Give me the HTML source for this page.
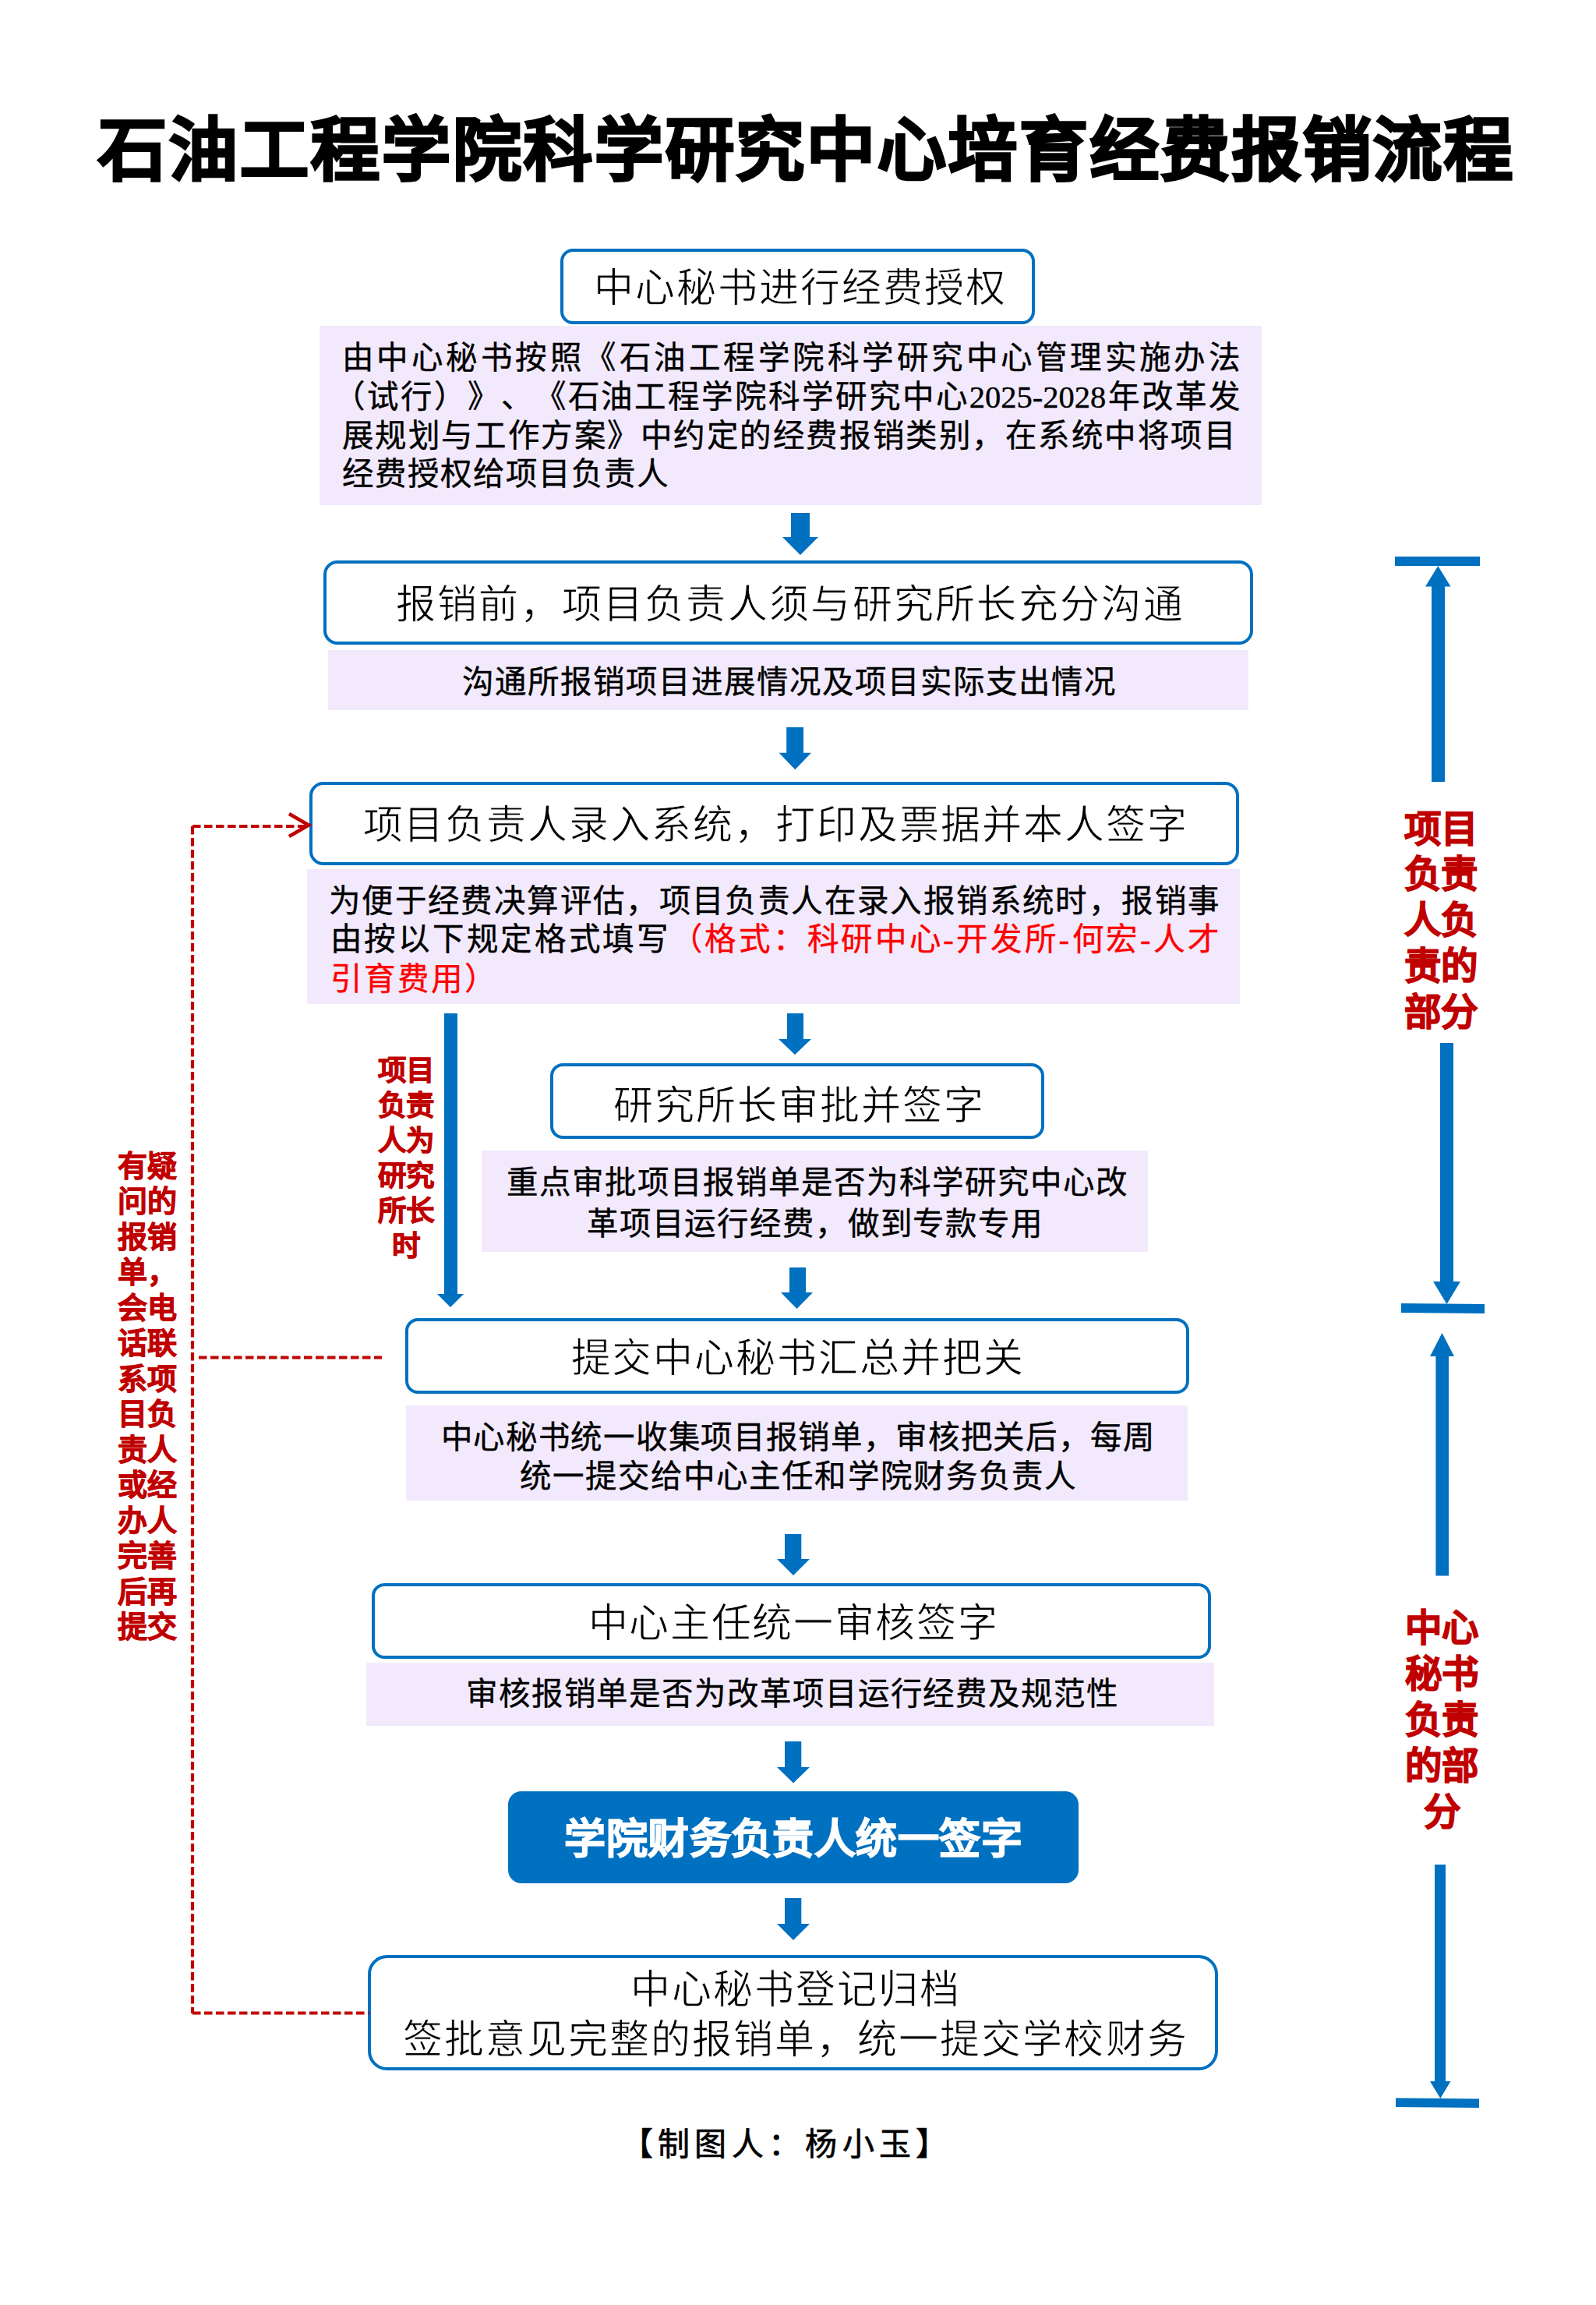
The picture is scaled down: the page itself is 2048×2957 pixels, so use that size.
<!DOCTYPE html>
<html lang="zh-CN"><head><meta charset="utf-8"><title>石油工程学院科学研究中心培育经费报销流程</title>
<style>
html,body{margin:0;padding:0;background:#fff;}
body{width:2048px;height:2957px;position:relative;overflow:hidden;}
.b{position:absolute;box-sizing:border-box;}
.t{position:absolute;white-space:nowrap;text-spacing-trim:space-all;}
.f1{font-family:"Liberation Sans",sans-serif;}
.f2{font-family:"Liberation Serif",serif;}
.j{text-align:justify;text-align-last:justify;}
.c{text-align:center;}
.ov{position:absolute;left:0;top:0;}
</style></head><body>
<div class="t f1 j" style="left:126.4px;top:149.1px;width:1815.0px;font-size:88.00px;line-height:88.00px;color:#000;font-weight:bold;-webkit-text-stroke:3px #000;">石油工程学院科学研究中心培育经费报销流程</div>
<div class="b" style="left:410px;top:418px;width:1209px;height:230px;background:#f2eafc"></div>
<div class="b" style="left:421px;top:834px;width:1181px;height:77px;background:#f2eafc"></div>
<div class="b" style="left:394px;top:1115px;width:1197px;height:173px;background:#f2eafc"></div>
<div class="b" style="left:618px;top:1476px;width:855px;height:130px;background:#f2eafc"></div>
<div class="b" style="left:521px;top:1803px;width:1003px;height:122px;background:#f2eafc"></div>
<div class="b" style="left:470px;top:2133px;width:1088px;height:81px;background:#f2eafc"></div>
<div class="b" style="left:719px;top:319px;width:609px;height:97px;border:4px solid #0070c0;border-radius:16.2px;background:#fff"></div>
<div class="b" style="left:415px;top:719px;width:1193px;height:108px;border:4px solid #0070c0;border-radius:18.0px;background:#fff"></div>
<div class="b" style="left:397px;top:1003px;width:1193px;height:107px;border:4px solid #0070c0;border-radius:17.8px;background:#fff"></div>
<div class="b" style="left:706px;top:1364px;width:634px;height:97px;border:4px solid #0070c0;border-radius:16.2px;background:#fff"></div>
<div class="b" style="left:520px;top:1691px;width:1006px;height:97px;border:4px solid #0070c0;border-radius:16.2px;background:#fff"></div>
<div class="b" style="left:477px;top:2031px;width:1077px;height:97px;border:4px solid #0070c0;border-radius:16.2px;background:#fff"></div>
<div class="b" style="left:472px;top:2508px;width:1091px;height:148px;border:4px solid #0070c0;border-radius:24.7px;background:#fff"></div>
<div class="b" style="left:652px;top:2298px;width:732px;height:118px;border:0px solid #0070c0;border-radius:17px;background:#0070c0"></div>
<div class="t f1 j" style="left:761.5px;top:343.5px;width:528.1px;font-size:51.00px;line-height:51.00px;color:#000;font-weight:normal;-webkit-text-stroke:0.8px #fff;">中心秘书进行经费授权</div>
<div class="t f1 j" style="left:507.5px;top:749.5px;width:1010.1px;font-size:51.00px;line-height:51.00px;color:#000;font-weight:normal;-webkit-text-stroke:0.8px #fff;">报销前，项目负责人须与研究所长充分沟通</div>
<div class="t f1 j" style="left:465.5px;top:1032.5px;width:1057.1px;font-size:51.00px;line-height:51.00px;color:#000;font-weight:normal;-webkit-text-stroke:0.8px #fff;">项目负责人录入系统，打印及票据并本人签字</div>
<div class="t f1 j" style="left:786.5px;top:1392.5px;width:475.1px;font-size:51.00px;line-height:51.00px;color:#000;font-weight:normal;-webkit-text-stroke:0.8px #fff;">研究所长审批并签字</div>
<div class="t f1 j" style="left:732.5px;top:1716.5px;width:580.1px;font-size:51.00px;line-height:51.00px;color:#000;font-weight:normal;-webkit-text-stroke:0.8px #fff;">提交中心秘书汇总并把关</div>
<div class="t f1 j" style="left:754.5px;top:2056.5px;width:525.1px;font-size:51.00px;line-height:51.00px;color:#000;font-weight:normal;-webkit-text-stroke:0.8px #fff;">中心主任统一审核签字</div>
<div class="t f1 j" style="left:808.5px;top:2526.5px;width:422.1px;font-size:51.00px;line-height:51.00px;color:#000;font-weight:normal;-webkit-text-stroke:0.8px #fff;">中心秘书登记归档</div>
<div class="t f1 j" style="left:516.5px;top:2590.5px;width:1006.1px;font-size:51.00px;line-height:51.00px;color:#000;font-weight:normal;-webkit-text-stroke:0.8px #fff;">签批意见完整的报销单，统一提交学校财务</div>
<div class="t f1 j" style="left:724.4px;top:2332.5px;width:587.2px;font-size:53.00px;line-height:53.00px;color:#fff;font-weight:bold;-webkit-text-stroke:1.4px #fff;">学院财务负责人统一签字</div>
<div class="t f2 j" style="left:438.8px;top:439.6px;width:1152.2px;font-size:40.50px;line-height:40.50px;color:#000;font-weight:normal;-webkit-text-stroke-width:0.4px;">由中心秘书按照《石油工程学院科学研究中心管理实施办法</div>
<div class="t f2 j" style="left:428.0px;top:489.6px;width:1163.0px;font-size:40.50px;line-height:40.50px;color:#000;font-weight:normal;-webkit-text-stroke-width:0.4px;">（试行）》、《石油工程学院科学研究中心2025-2028年改革发</div>
<div class="t f2 j" style="left:438.8px;top:539.6px;width:1146.2px;font-size:40.50px;line-height:40.50px;color:#000;font-weight:normal;-webkit-text-stroke-width:0.4px;">展规划与工作方案》中约定的经费报销类别，在系统中将项目</div>
<div class="t f2 j" style="left:438.8px;top:588.6px;width:418.2px;font-size:40.50px;line-height:40.50px;color:#000;font-weight:normal;-webkit-text-stroke-width:0.4px;">经费授权给项目负责人</div>
<div class="t f2 j" style="left:592.8px;top:855.6px;width:838.2px;font-size:40.50px;line-height:40.50px;color:#000;font-weight:normal;-webkit-text-stroke-width:0.4px;">沟通所报销项目进展情况及项目实际支出情况</div>
<div class="t f2 j" style="left:421.8px;top:1136.6px;width:1142.2px;font-size:40.50px;line-height:40.50px;color:#000;font-weight:normal;-webkit-text-stroke-width:0.4px;">为便于经费决算评估，项目负责人在录入报销系统时，报销事</div>
<div class="t f2 j" style="left:423.8px;top:1185.6px;width:1140.2px;font-size:40.50px;line-height:40.50px;color:#000;font-weight:normal;-webkit-text-stroke-width:0.4px;">由按以下规定格式填写<span style="color:#ff0000">（格式：科研中心-开发所-何宏-人才</span></div>
<div class="t f2 j" style="left:423.8px;top:1236.6px;width:212.6px;font-size:40.50px;line-height:40.50px;color:#000;font-weight:normal;-webkit-text-stroke-width:0.4px;"><span style="color:#ff0000">引育费用）</span></div>
<div class="t f2 j" style="left:649.8px;top:1497.6px;width:796.2px;font-size:40.50px;line-height:40.50px;color:#000;font-weight:normal;-webkit-text-stroke-width:0.4px;">重点审批项目报销单是否为科学研究中心改</div>
<div class="t f2 j" style="left:752.8px;top:1550.6px;width:584.2px;font-size:40.50px;line-height:40.50px;color:#000;font-weight:normal;-webkit-text-stroke-width:0.4px;">革项目运行经费，做到专款专用</div>
<div class="t f2 j" style="left:565.8px;top:1824.6px;width:915.2px;font-size:40.50px;line-height:40.50px;color:#000;font-weight:normal;-webkit-text-stroke-width:0.4px;">中心秘书统一收集项目报销单，审核把关后，每周</div>
<div class="t f2 j" style="left:666.8px;top:1874.6px;width:713.2px;font-size:40.50px;line-height:40.50px;color:#000;font-weight:normal;-webkit-text-stroke-width:0.4px;">统一提交给中心主任和学院财务负责人</div>
<div class="t f2 j" style="left:597.8px;top:2153.6px;width:836.2px;font-size:40.50px;line-height:40.50px;color:#000;font-weight:normal;-webkit-text-stroke-width:0.4px;">审核报销单是否为改革项目运行经费及规范性</div>
<div class="t f1 j" style="left:796.5px;top:2730.6px;width:419.9px;font-size:41.00px;line-height:41.00px;color:#000;font-weight:normal;-webkit-text-stroke:0.7px #000;">【制图人：杨小玉】</div>
<div class="t f1 c" style="left:484.0px;top:1355.6px;width:74.0px;font-size:36.5px;line-height:36.5px;color:#c00000;font-weight:bold;-webkit-text-stroke:1.0px #c00000">项目</div>
<div class="t f1 c" style="left:484.0px;top:1400.6px;width:74.0px;font-size:36.5px;line-height:36.5px;color:#c00000;font-weight:bold;-webkit-text-stroke:1.0px #c00000">负责</div>
<div class="t f1 c" style="left:484.0px;top:1445.6px;width:74.0px;font-size:36.5px;line-height:36.5px;color:#c00000;font-weight:bold;-webkit-text-stroke:1.0px #c00000">人为</div>
<div class="t f1 c" style="left:484.0px;top:1490.6px;width:74.0px;font-size:36.5px;line-height:36.5px;color:#c00000;font-weight:bold;-webkit-text-stroke:1.0px #c00000">研究</div>
<div class="t f1 c" style="left:484.0px;top:1535.6px;width:74.0px;font-size:36.5px;line-height:36.5px;color:#c00000;font-weight:bold;-webkit-text-stroke:1.0px #c00000">所长</div>
<div class="t f1 c" style="left:484.0px;top:1580.6px;width:74.0px;font-size:36.5px;line-height:36.5px;color:#c00000;font-weight:bold;-webkit-text-stroke:1.0px #c00000">时</div>
<div class="t f1 c" style="left:150.0px;top:1476.6px;width:77.0px;font-size:38px;line-height:38px;color:#c00000;font-weight:bold;-webkit-text-stroke:0.9px #c00000">有疑</div>
<div class="t f1 c" style="left:150.0px;top:1522.1px;width:77.0px;font-size:38px;line-height:38px;color:#c00000;font-weight:bold;-webkit-text-stroke:0.9px #c00000">问的</div>
<div class="t f1 c" style="left:150.0px;top:1567.6px;width:77.0px;font-size:38px;line-height:38px;color:#c00000;font-weight:bold;-webkit-text-stroke:0.9px #c00000">报销</div>
<div class="t f1 c" style="left:150.0px;top:1613.1px;width:77.0px;font-size:38px;line-height:38px;color:#c00000;font-weight:bold;-webkit-text-stroke:0.9px #c00000">单，</div>
<div class="t f1 c" style="left:150.0px;top:1658.6px;width:77.0px;font-size:38px;line-height:38px;color:#c00000;font-weight:bold;-webkit-text-stroke:0.9px #c00000">会电</div>
<div class="t f1 c" style="left:150.0px;top:1704.1px;width:77.0px;font-size:38px;line-height:38px;color:#c00000;font-weight:bold;-webkit-text-stroke:0.9px #c00000">话联</div>
<div class="t f1 c" style="left:150.0px;top:1749.6px;width:77.0px;font-size:38px;line-height:38px;color:#c00000;font-weight:bold;-webkit-text-stroke:0.9px #c00000">系项</div>
<div class="t f1 c" style="left:150.0px;top:1795.1px;width:77.0px;font-size:38px;line-height:38px;color:#c00000;font-weight:bold;-webkit-text-stroke:0.9px #c00000">目负</div>
<div class="t f1 c" style="left:150.0px;top:1840.6px;width:77.0px;font-size:38px;line-height:38px;color:#c00000;font-weight:bold;-webkit-text-stroke:0.9px #c00000">责人</div>
<div class="t f1 c" style="left:150.0px;top:1886.1px;width:77.0px;font-size:38px;line-height:38px;color:#c00000;font-weight:bold;-webkit-text-stroke:0.9px #c00000">或经</div>
<div class="t f1 c" style="left:150.0px;top:1931.6px;width:77.0px;font-size:38px;line-height:38px;color:#c00000;font-weight:bold;-webkit-text-stroke:0.9px #c00000">办人</div>
<div class="t f1 c" style="left:150.0px;top:1977.1px;width:77.0px;font-size:38px;line-height:38px;color:#c00000;font-weight:bold;-webkit-text-stroke:0.9px #c00000">完善</div>
<div class="t f1 c" style="left:150.0px;top:2022.6px;width:77.0px;font-size:38px;line-height:38px;color:#c00000;font-weight:bold;-webkit-text-stroke:0.9px #c00000">后再</div>
<div class="t f1 c" style="left:150.0px;top:2068.1px;width:77.0px;font-size:38px;line-height:38px;color:#c00000;font-weight:bold;-webkit-text-stroke:0.9px #c00000">提交</div>
<div class="t f1 c" style="left:1801.0px;top:1039.5px;width:96.0px;font-size:47.5px;line-height:47.5px;color:#c00000;font-weight:bold;-webkit-text-stroke:1.3px #c00000">项目</div>
<div class="t f1 c" style="left:1801.0px;top:1098.3px;width:96.0px;font-size:47.5px;line-height:47.5px;color:#c00000;font-weight:bold;-webkit-text-stroke:1.3px #c00000">负责</div>
<div class="t f1 c" style="left:1801.0px;top:1157.1px;width:96.0px;font-size:47.5px;line-height:47.5px;color:#c00000;font-weight:bold;-webkit-text-stroke:1.3px #c00000">人负</div>
<div class="t f1 c" style="left:1801.0px;top:1215.9px;width:96.0px;font-size:47.5px;line-height:47.5px;color:#c00000;font-weight:bold;-webkit-text-stroke:1.3px #c00000">责的</div>
<div class="t f1 c" style="left:1801.0px;top:1274.7px;width:96.0px;font-size:47.5px;line-height:47.5px;color:#c00000;font-weight:bold;-webkit-text-stroke:1.3px #c00000">部分</div>
<div class="t f1 c" style="left:1801.0px;top:2064.5px;width:98.0px;font-size:47.5px;line-height:47.5px;color:#c00000;font-weight:bold;-webkit-text-stroke:1.3px #c00000">中心</div>
<div class="t f1 c" style="left:1801.0px;top:2123.5px;width:98.0px;font-size:47.5px;line-height:47.5px;color:#c00000;font-weight:bold;-webkit-text-stroke:1.3px #c00000">秘书</div>
<div class="t f1 c" style="left:1801.0px;top:2182.5px;width:98.0px;font-size:47.5px;line-height:47.5px;color:#c00000;font-weight:bold;-webkit-text-stroke:1.3px #c00000">负责</div>
<div class="t f1 c" style="left:1801.0px;top:2241.5px;width:98.0px;font-size:47.5px;line-height:47.5px;color:#c00000;font-weight:bold;-webkit-text-stroke:1.3px #c00000">的部</div>
<div class="t f1 c" style="left:1801.0px;top:2300.5px;width:98.0px;font-size:47.5px;line-height:47.5px;color:#c00000;font-weight:bold;-webkit-text-stroke:1.3px #c00000">分</div>
<svg class="ov" width="2048" height="2957" viewBox="0 0 2048 2957"><polygon fill="#0070c0" points="1015,658 1039,658 1039,689 1050,689 1027.0,712 1004,689 1015,689"/><polygon fill="#0070c0" points="1009.2,933 1031,933 1031,965.7 1041,965.7 1020.3,987.3 999.6,965.7 1009.2,965.7"/><polygon fill="#0070c0" points="1010,1300 1031,1300 1031,1333 1041,1333 1020.0,1353 999,1333 1010,1333"/><polygon fill="#0070c0" points="1013,1626 1034,1626 1034,1658 1043,1658 1022.5,1679 1002,1658 1013,1658"/><polygon fill="#0070c0" points="1007,1968 1028.3,1968 1028.3,2000 1039,2000 1018.0,2021 997,2000 1007,2000"/><polygon fill="#0070c0" points="1007,2234 1028.3,2234 1028.3,2267 1039,2267 1018.0,2287.6 997,2267 1007,2267"/><polygon fill="#0070c0" points="1007,2435 1028.3,2435 1028.3,2468 1039,2468 1018.0,2489 997,2468 1007,2468"/><polygon fill="#0070c0" points="570,1300 587,1300 587,1660 595,1660 578.0,1677 561,1660 570,1660"/><rect fill="#0070c0" x="1790" y="714" width="109" height="12"/><polygon fill="#0070c0" points="1837,1003 1854,1003 1854,752.5 1861.5,752.5 1845.25,726 1829,752.5 1837,752.5"/><polygon fill="#0070c0" points="1848,1338 1865,1338 1865,1644 1874,1644 1856.5,1673 1839,1644 1848,1644"/><polygon fill="#0070c0" points="1798,1672 1905,1673 1905,1685 1798,1684"/><polygon fill="#0070c0" points="1842.4,2021.5 1859,2021.5 1859,1740 1866,1740 1850.5,1710 1835,1740 1842.4,1740"/><polygon fill="#0070c0" points="1841,2392 1855,2392 1855,2670 1861.5,2670 1848.25,2692 1835,2670 1841,2670"/><polygon fill="#0070c0" points="1791,2691.5 1898,2692.5 1898,2704 1791,2703"/><path d="M247,1060 L247,2583" stroke="#c00000" stroke-width="4.2" fill="none" stroke-dasharray="10.5 4.5"/><path d="M247,1060 L393,1060" stroke="#c00000" stroke-width="4.2" fill="none" stroke-dasharray="10.5 4.5"/><path d="M255,1741.5 L490,1741.5" stroke="#c00000" stroke-width="4.2" fill="none" stroke-dasharray="10.5 4.5"/><path d="M247,2582.5 L473,2582.5" stroke="#c00000" stroke-width="4.2" fill="none" stroke-dasharray="10.5 4.5"/><path d="M371,1044 L396,1058.5 L371,1073" stroke="#c00000" stroke-width="4.6" fill="none" stroke-linecap="butt" stroke-linejoin="miter"/></svg>
</body></html>
